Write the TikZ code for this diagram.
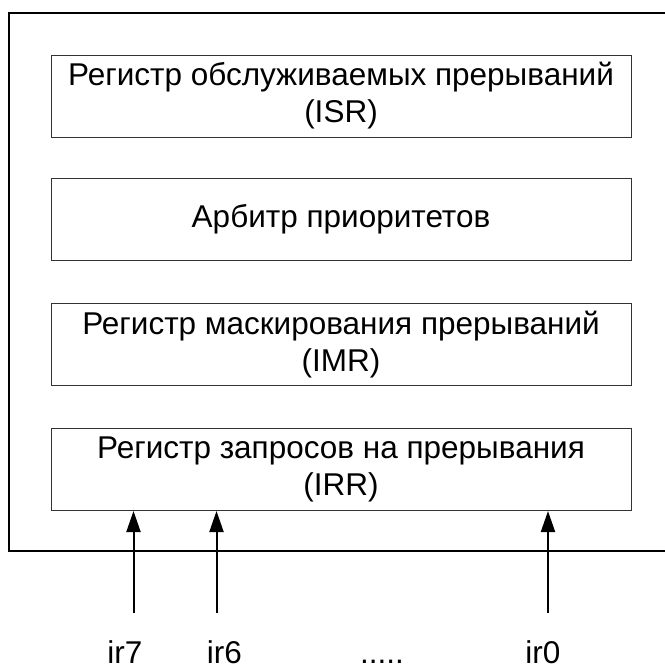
\documentclass[tikz,border=0pt]{standalone}
\usepackage{fontspec}
\setmainfont{Liberation Sans}
\usetikzlibrary{arrows.meta}
\begin{document}
\begin{tikzpicture}[x=1pt,y=-1pt,
  regbox/.style={draw=black!80, line width=1pt, minimum width=580pt, minimum height=82pt,
    inner sep=0pt, align=center, font=\fontsize{31.5}{37}\selectfont},
  frameline/.style={line width=2pt},
  irq/.style={line width=2pt, -{Triangle[length=21pt,width=14pt]}},
  pinlabel/.style={anchor=base, inner sep=0pt, font=\fontsize{31.5}{37}\selectfont}]
\useasboundingbox (0,0) rectangle (665,664);

% chip outline, open on the right
\draw[frameline] (665,13) -- (9,13) -- (9,551) -- (665,551);

% register stack
\node[regbox] (isr) at (341,96) {Регистр обслуживаемых прерываний\\(ISR)};
\node[regbox] (arb) at (341,219) {Арбитр приоритетов};
\node[regbox] (imr) at (341,344.5) {Регистр маскирования прерываний\\(IMR)};
\node[regbox] (irr) at (341,469.5) {Регистр запросов на прерывания\\(IRR)};

% interrupt request inputs
\coordinate (in7) at (133.5,613);
\coordinate (in6) at (216.5,613);
\coordinate (in0) at (548,613);
\draw[irq] (in7) -- (in7 |- irr.south);
\draw[irq] (in6) -- (in6 |- irr.south);
\draw[irq] (in0) -- (in0 |- irr.south);

\node[pinlabel] (l7) at (125,663) {ir7};
\node[pinlabel] (l6) at (224.5,663) {ir6};
\node[pinlabel] (ldots) at (382,663) {.....};
\node[pinlabel] (l0) at (543,663) {ir0};
\end{tikzpicture}
\end{document}
